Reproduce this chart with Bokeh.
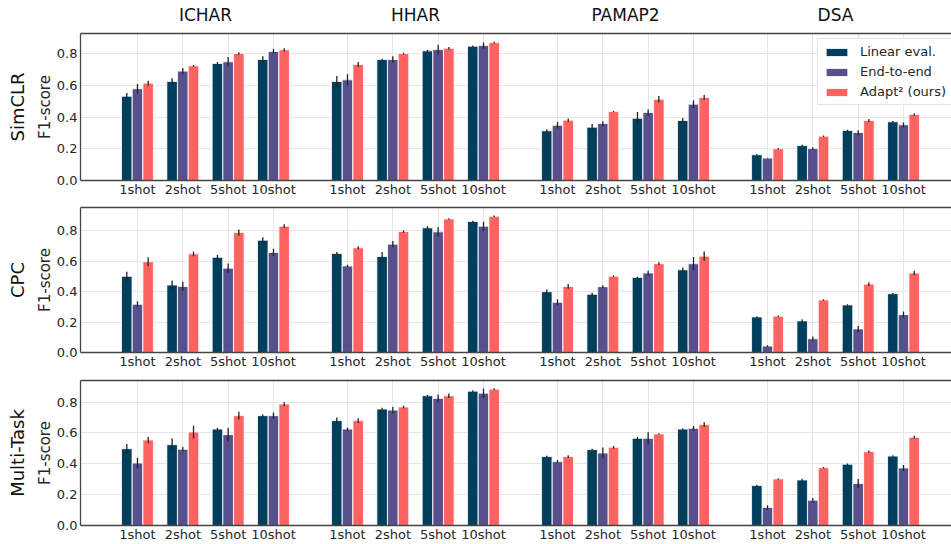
from bokeh.plotting import figure
from bokeh.models import (ColumnDataSource, FixedTicker, LinearAxis, Legend,
                          LegendItem, Range1d, PrintfTickFormatter)
from bokeh.layouts import column
from bokeh.embed import file_html
from bokeh.resources import INLINE

datasets = ["ICHAR", "HHAR", "PAMAP2", "DSA"]
shots = ["1shot", "2shot", "5shot", "10shot"]
methods = ["Linear eval.", "End-to-end", "Adapt\u00b2 (ours)"]
rows = ["SimCLR", "CPC", "Multi-Task"]
colors = ["#003f5c", "#58508d", "#ff6361"]

# values listed dataset by dataset (ICHAR, HHAR, PAMAP2, DSA), shots 1/2/5/10
simclr_linear = [0.531, 0.624, 0.737, 0.762, 0.624, 0.762, 0.817, 0.846,
                 0.313, 0.336, 0.392, 0.378, 0.162, 0.220, 0.315, 0.370]
simclr_e2e = [0.578, 0.689, 0.748, 0.813, 0.634, 0.762, 0.825, 0.850,
              0.348, 0.359, 0.428, 0.481, 0.141, 0.202, 0.302, 0.351]
simclr_adapt = [0.613, 0.722, 0.800, 0.823, 0.731, 0.800, 0.833, 0.869,
                0.380, 0.435, 0.512, 0.523, 0.200, 0.279, 0.378, 0.416]
simclr_linear_err = [0.02, 0.02, 0.01, 0.02, 0.035, 0.005, 0.005, 0.005,
                     0.01, 0.02, 0.04, 0.015, 0.005, 0.005, 0.005, 0.005]
simclr_e2e_err = [0.03, 0.02, 0.03, 0.015, 0.035, 0.02, 0.03, 0.02,
                  0.02, 0.015, 0.02, 0.025, 0.003, 0.008, 0.015, 0.015]
simclr_adapt_err = [0.015, 0.005, 0.008, 0.01, 0.015, 0.005, 0.008, 0.005,
                    0.01, 0.003, 0.02, 0.015, 0.005, 0.005, 0.01, 0.008]

cpc_linear = [0.501, 0.444, 0.626, 0.739, 0.652, 0.632, 0.820, 0.862,
              0.400, 0.383, 0.494, 0.544, 0.234, 0.208, 0.313, 0.387]
cpc_e2e = [0.317, 0.435, 0.555, 0.658, 0.569, 0.713, 0.794, 0.831,
           0.330, 0.433, 0.523, 0.584, 0.042, 0.090, 0.155, 0.249]
cpc_adapt = [0.597, 0.649, 0.790, 0.831, 0.689, 0.796, 0.879, 0.896,
             0.435, 0.501, 0.584, 0.634, 0.239, 0.346, 0.450, 0.523]
cpc_linear_err = [0.03, 0.03, 0.015, 0.02, 0.01, 0.03, 0.01, 0.005,
                  0.015, 0.01, 0.005, 0.015, 0.005, 0.01, 0.005, 0.005]
cpc_e2e_err = [0.02, 0.03, 0.03, 0.025, 0.008, 0.02, 0.03, 0.03,
               0.02, 0.01, 0.015, 0.045, 0.005, 0.015, 0.02, 0.02]
cpc_adapt_err = [0.03, 0.015, 0.02, 0.012, 0.01, 0.008, 0.005, 0.005,
                 0.015, 0.005, 0.01, 0.03, 0.005, 0.005, 0.012, 0.015]

mt_linear = [0.498, 0.524, 0.625, 0.712, 0.680, 0.755, 0.841, 0.871,
             0.447, 0.492, 0.565, 0.625, 0.259, 0.295, 0.397, 0.450]
mt_e2e = [0.405, 0.494, 0.589, 0.712, 0.625, 0.748, 0.824, 0.858,
          0.414, 0.470, 0.565, 0.630, 0.117, 0.164, 0.272, 0.373]
mt_adapt = [0.554, 0.606, 0.712, 0.787, 0.680, 0.768, 0.841, 0.884,
            0.447, 0.507, 0.593, 0.654, 0.302, 0.375, 0.479, 0.572]
mt_linear_err = [0.03, 0.04, 0.008, 0.008, 0.02, 0.008, 0.005, 0.005,
                 0.005, 0.005, 0.008, 0.005, 0.005, 0.008, 0.005, 0.005]
mt_e2e_err = [0.035, 0.015, 0.045, 0.02, 0.01, 0.02, 0.025, 0.03,
              0.01, 0.035, 0.04, 0.015, 0.015, 0.015, 0.03, 0.02]
mt_adapt_err = [0.02, 0.04, 0.025, 0.012, 0.015, 0.008, 0.015, 0.005,
                0.008, 0.008, 0.005, 0.015, 0.005, 0.005, 0.008, 0.01]

y_ticks = [0.0, 0.2, 0.4, 0.6, 0.8]
y_ends = [0.926, 0.954, 0.94]

all_vals = [[simclr_linear, simclr_e2e, simclr_adapt],
            [cpc_linear, cpc_e2e, cpc_adapt],
            [mt_linear, mt_e2e, mt_adapt]]
all_errs = [[simclr_linear_err, simclr_e2e_err, simclr_adapt_err],
            [cpc_linear_err, cpc_e2e_err, cpc_adapt_err],
            [mt_linear_err, mt_e2e_err, mt_adapt_err]]

# layout constants
DSTEP = 4.633
BOFF = 0.236
BW = 0.232
FW = 871
X0 = -1.257
X1 = X0 + FW / 45.33
FONT = "DejaVu Sans"

centers = [round(d * DSTEP + s, 4) for d in range(len(datasets)) for s in range(len(shots))]
center_labels = {c: shots[i % len(shots)] for i, c in enumerate(centers)}
dcenters = [round(d * DSTEP + (len(shots) - 1) / 2, 4) for d in range(len(datasets))]
dlabels = {c: datasets[i] for i, c in enumerate(dcenters)}

frame_heights = [147, 145, 145]
tops = [33, 7, 8]
bottoms = [20, 20, 19]

figs = []
for ri in range(3):
    p = figure(frame_width=FW, frame_height=frame_heights[ri],
               output_backend="svg", toolbar_location=None,
               x_range=Range1d(X0, X1), y_range=Range1d(0, y_ends[ri]),
               min_border_left=80, min_border_right=0,
               min_border_top=tops[ri], min_border_bottom=bottoms[ri])
    p.outline_line_color = None
    p.background_fill_color = "white"

    # grids
    p.xgrid.grid_line_color = "#e6e6e6"
    p.ygrid.grid_line_color = "#e6e6e6"
    p.xgrid.grid_line_width = 1
    p.ygrid.grid_line_width = 1

    # x axis
    xa = p.xaxis[0]
    xa.ticker = FixedTicker(ticks=centers)
    xa.major_label_overrides = center_labels
    xa.major_tick_line_color = None
    xa.minor_tick_line_color = None
    xa.major_tick_out = 0
    xa.major_tick_in = 0
    xa.major_label_standoff = 1
    xa.axis_line_color = "#444444"
    xa.axis_line_width = 1.3
    xa.major_label_text_font = FONT
    xa.major_label_text_font_size = "13px"
    xa.major_label_text_color = "#262626"

    # y axis
    ya = p.yaxis[0]
    ya.ticker = FixedTicker(ticks=y_ticks)
    ya.formatter = PrintfTickFormatter(format="%.1f")
    ya.major_tick_line_color = None
    ya.minor_tick_line_color = None
    ya.major_tick_out = 0
    ya.major_tick_in = 0
    ya.major_label_standoff = 3
    ya.axis_line_color = "#444444"
    ya.axis_line_width = 1.3
    ya.major_label_text_font = FONT
    ya.major_label_text_font_size = "13px"
    ya.major_label_text_color = "#262626"
    ya.axis_label = "F1-score"
    ya.axis_label_text_font = FONT
    ya.axis_label_text_font_size = "15px"
    ya.axis_label_text_font_style = "normal"
    ya.axis_label_text_color = "#262626"
    ya.axis_label_standoff = 0

    # row label axis
    ra = LinearAxis(ticker=FixedTicker(ticks=[]), axis_label=rows[ri],
                    axis_line_color=None, major_tick_line_color=None,
                    minor_tick_line_color=None, major_tick_out=0, major_tick_in=0,
                    major_label_standoff=0, major_label_text_font_size="0px",
                    axis_label_text_font=FONT, axis_label_text_font_size="18px",
                    axis_label_text_font_style="normal", axis_label_text_color="#111111",
                    axis_label_standoff=5)
    p.add_layout(ra, "left")

    # top spine / dataset titles
    if ri == 0:
        ta = LinearAxis(ticker=FixedTicker(ticks=dcenters), major_label_overrides=dlabels,
                        major_tick_line_color=None, minor_tick_line_color=None,
                        major_tick_out=0, major_tick_in=0, major_label_standoff=9,
                        axis_line_color="#444444", axis_line_width=1.3,
                        major_label_text_font=FONT, major_label_text_font_size="17px",
                        major_label_text_color="#111111")
    else:
        ta = LinearAxis(ticker=FixedTicker(ticks=[]),
                        major_tick_line_color=None, minor_tick_line_color=None,
                        major_tick_out=0, major_tick_in=0, major_label_standoff=0,
                        axis_line_color="#444444", axis_line_width=1.3,
                        major_label_text_font_size="0px")
    p.add_layout(ta, "above")

    bar_renderers = []
    for m in range(3):
        vals = all_vals[ri][m]
        errs = all_errs[ri][m]
        src = ColumnDataSource(dict(
            x=[c + (m - 1) * BOFF for c in centers],
            top=vals,
            lo=[v - e for v, e in zip(vals, errs)],
            hi=[v + e for v, e in zip(vals, errs)],
        ))
        r = p.vbar(x="x", top="top", bottom=0, width=BW, source=src,
                   fill_color=colors[m], line_color="white", line_width=0.8)
        p.segment(x0="x", y0="lo", x1="x", y1="hi", source=src,
                  line_color="#222222", line_width=1.3)
        bar_renderers.append(r)

    if ri == 0:
        items = [LegendItem(label=methods[m], renderers=[bar_renderers[m]]) for m in range(3)]
        lg = Legend(items=items, location=(737, 75), padding=5, spacing=5,
                    glyph_width=27, glyph_height=10, label_height=15, label_width=88,
                    label_standoff=10, label_text_font=FONT,
                    label_text_font_size="13px", label_text_color="#262626",
                    border_line_color="#cccccc", border_line_width=1,
                    background_fill_color="white", background_fill_alpha=0.85)
        p.add_layout(lg)
    figs.append(p)

layout = column(*figs)
open("out.html", "w").write(file_html(layout, INLINE))
